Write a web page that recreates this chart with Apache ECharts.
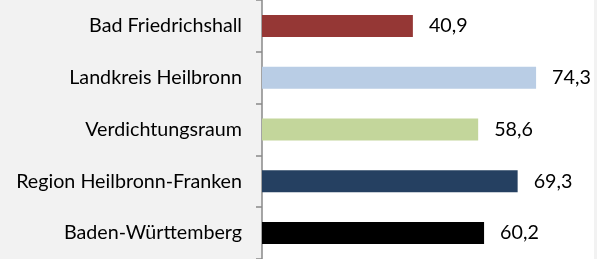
<!DOCTYPE html>
<html>
<head>
<meta charset="UTF-8">
<title>Bar chart</title>
<script src="https://cdn.jsdelivr.net/npm/echarts@6/dist/echarts.min.js"></script>
<style>
  html, body { margin: 0; padding: 0; background: #f2f2f2; }
  #container { width: 597px; height: 259px; }
</style>
</head>
<body>
<div id="container"></div>
<script>
var categories = ['Bad Friedrichshall', 'Landkreis Heilbronn', 'Verdichtungsraum', 'Region Heilbronn-Franken', 'Baden-Württemberg'];
var values = [40.9, 74.3, 58.6, 69.3, 60.2];
var barColors = ['#953735', '#b9cde5', '#c3d69b', '#254061', '#000000'];

var dom = document.getElementById('container');
var myChart = echarts.init(dom);

var seriesData = values.map(function (v, i) {
    return { value: v, itemStyle: { color: barColors[i] } };
});

var option = {
    backgroundColor: '#f2f2f2',
    animation: false,
    grid: {
        show: true,
        backgroundColor: '#ffffff',
        borderWidth: 0,
        left: 262,
        right: 3,
        top: -4,
        bottom: -8
    },
    xAxis: {
        type: 'value',
        min: 0,
        max: 90,
        show: false,
        splitLine: { show: false }
    },
    yAxis: {
        type: 'category',
        inverse: true,
        data: categories,
        axisLine: { show: true, lineStyle: { color: '#898989', width: 1.5 } },
        axisTick: { show: true, length: 6, lineStyle: { color: '#898989', width: 1.5 } },
        axisLabel: {
            margin: 20,
            color: '#000',
            fontFamily: 'Lato',
            fontSize: 19.7
        }
    },
    series: [
        {
            type: 'bar',
            data: seriesData,
            barWidth: 22,
            label: {
                show: true,
                position: 'right',
                distance: 16,
                color: '#000',
                fontFamily: 'Lato',
                fontSize: 19.7,
                formatter: function (p) {
                    return p.value.toFixed(1).replace('.', ',');
                }
            }
        }
    ]
};

myChart.setOption(option);
</script>
</body>
</html>
